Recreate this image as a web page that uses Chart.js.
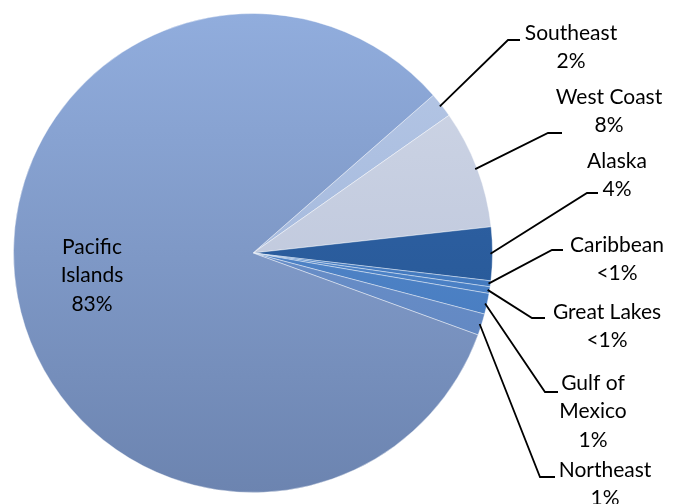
<!DOCTYPE html>
<html>
<head>
<meta charset="utf-8">
<script src="https://cdn.jsdelivr.net/npm/chart.js@4/dist/chart.umd.min.js"></script>
<style>
  html, body { margin: 0; padding: 0; background: #ffffff; }
  #wrap { width: 673px; height: 504px; position: relative; }
</style>
</head>
<body>
<div id="wrap"><canvas id="c" width="673" height="504"></canvas></div>
<script>
// ---- data ----
const categories = ['Southeast', 'West Coast', 'Alaska', 'Caribbean', 'Great Lakes', 'Gulf of Mexico', 'Northeast', 'Pacific Islands'];
const shares = [1.7, 8.0, 3.6, 0.4, 0.45, 1.4, 1.45, 83.0];

// ---- styles ----
const topColors    = ['#b7c8e6', '#d0d7e7', '#3467ae', '#5088cf', '#5a90d5', '#5c90d3', '#769bd2', '#91addd'];
const bottomColors = ['#96aed6', '#b5bfd6', '#21528c', '#3a6fb2', '#3e74b8', '#3f74b8', '#5a80bc', '#6c84b0'];

// label layout (text centre x, first line centre y, elbow of leader, end of leader)
const labelLayout = [
  { x: 571, y: 33,  elbow: [508, 40],  end: 520, breakAt: 0 },
  { x: 609, y: 97,  elbow: [548, 133], end: 562, breakAt: 0 },
  { x: 617, y: 161, elbow: [587, 193], end: 598, breakAt: 0 },
  { x: 617, y: 245, elbow: [552, 250], end: 563, breakAt: 0 },
  { x: 607, y: 312, elbow: [532, 318], end: 545, breakAt: 0 },
  { x: 593, y: 383, elbow: [545, 392], end: 558, breakAt: 2 },
  { x: 605, y: 470, elbow: [540, 477], end: 555, breakAt: 0 },
  { x: 92,  y: 247, elbow: null,       end: null, breakAt: 1 }
];
const LINE_H = 28.5;
const FONT = '21px Lato, "Open Sans", sans-serif';

function pctText(v) {
  return v < 1 ? '<1%' : Math.round(v) + '%';
}

function makeGradient(ctx, area, i) {
  if (!area) return topColors[i];
  const g = ctx.createLinearGradient(0, area.top, 0, area.bottom);
  g.addColorStop(0, topColors[i]);
  g.addColorStop(1, bottomColors[i]);
  return g;
}

const labelPlugin = {
  id: 'pieLabels',
  afterDatasetsDraw(chart) {
    const ctx = chart.ctx;
    const meta = chart.getDatasetMeta(0);
    ctx.save();
    ctx.font = FONT;
    ctx.textAlign = 'center';
    ctx.textBaseline = 'middle';
    meta.data.forEach((arc, i) => {
      const L = labelLayout[i];
      const p = arc.getProps(['x', 'y', 'startAngle', 'endAngle', 'outerRadius'], true);
      if (L.elbow) {
        const mid = (p.startAngle + p.endAngle) / 2;
        const ax = p.x + Math.cos(mid) * (p.outerRadius - 2);
        const ay = p.y + Math.sin(mid) * (p.outerRadius - 2);
        ctx.beginPath();
        ctx.strokeStyle = '#000000';
        ctx.lineWidth = 1.8;
        ctx.moveTo(ax, ay);
        ctx.lineTo(L.elbow[0], L.elbow[1]);
        ctx.lineTo(L.end, L.elbow[1]);
        ctx.stroke();
      }
      const words = categories[i].split(' ');
      const lines = L.breakAt ? [words.slice(0, L.breakAt).join(' '), words.slice(L.breakAt).join(' ')] : [categories[i]];
      lines.push(pctText(shares[i]));
      ctx.fillStyle = '#000000';
      lines.forEach((t, k) => ctx.fillText(t, L.x, L.y + k * LINE_H));
    });
    ctx.restore();
  }
};

new Chart(document.getElementById('c'), {
  type: 'pie',
  data: {
    labels: categories,
    datasets: [{
      data: shares,
      backgroundColor: (c) => makeGradient(c.chart.ctx, c.chart.chartArea, c.dataIndex),
      borderColor: 'rgba(255,255,255,0.4)',
      borderWidth: 1
    }]
  },
  options: {
    responsive: false,
    animation: false,
    rotation: 48.8,
    layout: { padding: { left: 13, right: 180, top: 13, bottom: 11 } },
    plugins: {
      legend: { display: false },
      tooltip: { enabled: false }
    },
    events: []
  },
  plugins: [labelPlugin]
});
</script>
</body>
</html>
